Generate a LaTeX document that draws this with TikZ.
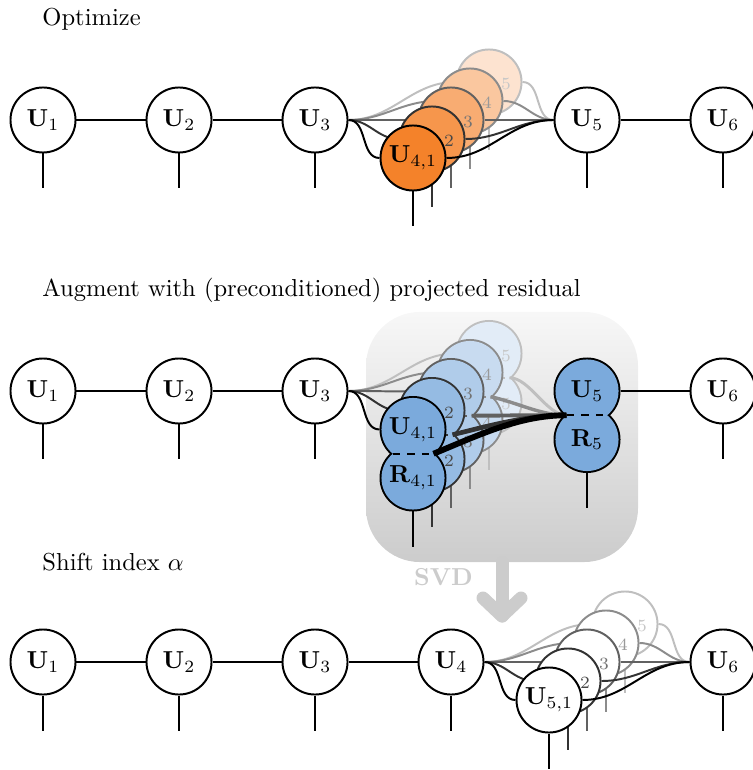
\documentclass[tikz,border=0pt]{standalone}
\usetikzlibrary{calc}
\definecolor{myorange}{HTML}{F4822A}
\definecolor{myblue}{HTML}{7BAADC}
\begin{document}
\begin{tikzpicture}[x=0.4075pt,y=-0.4075pt,
  tn/.style={circle,draw,thick,minimum size=26.5pt,inner sep=0pt,fill=white},
  ushape/.style={circle,line width=1.6pt,minimum size=25.7pt,inner sep=0pt},
  bond/.style={thick},
  lbl/.style={inner sep=0pt,font=\scriptsize},
  ttl/.style={anchor=base west,inner sep=0pt},
  svdarrow/.style={line width=5.3pt,draw=black!20,line cap=round,line join=round}]
\useasboundingbox (0,0) rectangle (752,770);

% ---------- titles
\node[ttl] (title1) at (42,25.5) {Optimize};
\node[ttl] (title2) at (42,297) {Augment with (preconditioned) projected residual};
\node[ttl] (title3) at (42,570) {Shift index $\alpha$};

% ---------- row 1
\foreach \i/\x in {1/43,2/179,3/315,5/587,6/723} {
  \node[tn] (A\i) at (\x,120) {$\mathbf{U}_{\i}$};
  \draw[bond] (A\i.south) -- ++(0,35);
}
\draw[bond] (A1) -- (A2) (A2) -- (A3) (A5) -- (A6);
\foreach \k/\fc/\dc/\lc in {5/myorange!22/black!25/black!22,4/myorange!45/black!45/black!40,3/myorange!66/black!62/black!55,2/myorange!84/black!80/black!72,1/myorange/black/black} {
  \pgfmathsetmacro\cx{413+19*(\k-1)}
  \pgfmathsetmacro\cy{158-19*(\k-1)}
  \node[tn,draw=\dc,fill=\fc] (B\k) at (\cx,\cy) {};
  \draw[bond,draw=\dc] (A3.east) to[out=0,in=180] (B\k.west);
  \draw[bond,draw=\dc] (B\k.east) to[out=0,in=180] (A5.west);
  \draw[bond,draw=\dc] (B\k.south) -- ++(0,35);
  \ifnum\k>1
    \node[lbl,text=\lc] (Bl\k) at (\cx+17,\cy+2) {\k};
  \else
    \node (Bl\k) at (B\k) {$\mathbf{U}_{4,1}$};
  \fi
}

% ---------- row 2
\node[rounded corners=22pt,top color=black!3,bottom color=black!20,minimum width=110.84pt,minimum height=101.9pt,inner sep=0pt] (box) at (502,437) {};
\foreach \i/\x in {1/43,2/179,3/315,6/723} {
  \node[tn] (C\i) at (\x,391) {$\mathbf{U}_{\i}$};
  \draw[bond] (C\i.south) -- ++(0,35);
}
\draw[bond] (C1) -- (C2) (C2) -- (C3);
% U5 / R5
\node[ushape,draw=black] (MU) at (587,391) {};
\node[ushape,draw=black] (MR) at (587,439.5) {};
\fill[myblue] (MU.center) circle[radius=12.85pt] (MR.center) circle[radius=12.85pt];
\draw[bond,dashed] ($(MU.center)+(-20.5,24.25)$) -- ($(MU.center)+(20.5,24.25)$);
\node (MUl) at (MU.center) {$\mathbf{U}_5$};
\node (MRl) at (MR.center) {$\mathbf{R}_5$};
\draw[bond] (MR.south) -- ++(0,35);
\draw[bond] (MU.east) -- (C6.west);
\coordinate (J5) at ($(MU.center)+(-20.5,24.25)$);
\foreach \k/\fc/\dc/\lc/\lw/\f in {5/myblue!22/black!25/black!22/1.2pt/0,4/myblue!42/black!45/black!40/1.4pt/0.3,3/myblue!60/black!62/black!55/1.6pt/0.5,2/myblue!80/black!80/black!72/1.9pt/0.5,1/myblue/black/black/2.4pt/0.5} {
  \pgfmathsetmacro\cx{413+19*(\k-1)}
  \pgfmathsetmacro\cy{429.5-19*(\k-1)}
  \pgfmathsetmacro\ry{\cy+48.5}
  \pgfmathsetmacro\ax{0.35*(566.5-(\cx+20.5))}
  \pgfmathsetmacro\ay{\f*(415.25-(\cy+24.25))}
  \node[ushape,draw=\dc] (MU\k) at (\cx,\cy) {};
  \node[ushape,draw=\dc] (MR\k) at (\cx,\ry) {};
  \fill[\fc] (MU\k.center) circle[radius=12.85pt] (MR\k.center) circle[radius=12.85pt];
  \draw[bond,dashed,draw=\dc] ($(MU\k.center)+(-20.5,24.25)$) -- ($(MU\k.center)+(20.5,24.25)$);
  \coordinate (MJ\k) at ($(MU\k.center)+(20.5,24.25)$);
  \draw[bond,draw=\dc] (C3.east) to[out=0,in=180] (MU\k.west);
  \draw[bond,draw=\dc] (MR\k.south) -- ++(0,35);
  \draw[line width=\lw,draw=\dc] (MJ\k) .. controls ($(MJ\k)+(\ax,\ay)$) and ($(J5)+(-\ax,0)$) .. (J5);
  \ifnum\k>1
    \node[lbl,text=\lc] (MUl\k) at (\cx+17,\cy+2) {\k};
    \node[lbl,text=\lc] (MRl\k) at (\cx+17,\ry+2) {\k};
  \else
    \node (MUl\k) at (MU\k.center) {$\mathbf{U}_{4,1}$};
    \node (MRl\k) at (MR\k.center) {$\mathbf{R}_{4,1}$};
  \fi
}

% ---------- SVD arrow
\coordinate (svdtip) at (502,616);
\draw[svdarrow] (box.south) -- (svdtip);
\draw[svdarrow] ($(svdtip)+(-19,-18)$) -- (svdtip) -- ($(svdtip)+(19,-18)$);
\node[anchor=base,inner sep=0pt,text=black!20,font=\bfseries] (svd) at (443.5,585) {SVD};

% ---------- row 3
\foreach \i/\x in {1/43,2/179,3/315,4/451,6/723} {
  \node[tn] (D\i) at (\x,662) {$\mathbf{U}_{\i}$};
  \draw[bond] (D\i.south) -- ++(0,35);
}
\draw[bond] (D1) -- (D2) (D2) -- (D3) (D3) -- (D4);
\foreach \k/\dc/\lc in {5/black!25/black!22,4/black!45/black!40,3/black!62/black!55,2/black!80/black!72,1/black/black} {
  \pgfmathsetmacro\cx{549+19*(\k-1)}
  \pgfmathsetmacro\cy{700-19*(\k-1)}
  \node[tn,draw=\dc] (E\k) at (\cx,\cy) {};
  \draw[bond,draw=\dc] (D4.east) to[out=0,in=180] (E\k.west);
  \draw[bond,draw=\dc] (E\k.east) to[out=0,in=180] (D6.west);
  \draw[bond,draw=\dc] (E\k.south) -- ++(0,35);
  \ifnum\k>1
    \node[lbl,text=\lc] (El\k) at (\cx+17,\cy+2) {\k};
  \else
    \node (El\k) at (E\k) {$\mathbf{U}_{5,1}$};
  \fi
}
\end{tikzpicture}
\end{document}
